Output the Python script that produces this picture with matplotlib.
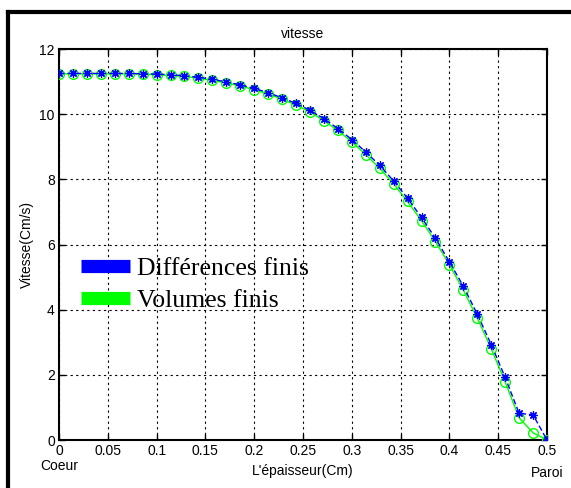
import numpy as np
import matplotlib
matplotlib.use("Agg")
import matplotlib.pyplot as plt
from matplotlib.lines import Line2D

# epaisseur (Cm), 36 noeuds de 0 a 0.5
x = np.linspace(0.0, 0.5, 36)

# vitesse - differences finis
v_df = [11.25, 11.25, 11.25, 11.25, 11.25, 11.25, 11.24, 11.23, 11.21, 11.18,
        11.13, 11.07, 10.99, 10.90, 10.79, 10.66, 10.50, 10.33, 10.12, 9.86,
        9.56, 9.22, 8.84, 8.43, 7.95, 7.42, 6.83, 6.19, 5.47, 4.72,
        3.86, 2.93, 1.92, 0.82, 0.77, 0.0]

# vitesse - volumes finis
v_vf = [11.24, 11.24, 11.24, 11.24, 11.24, 11.24, 11.23, 11.21, 11.19, 11.16,
        11.11, 11.04, 10.96, 10.87, 10.75, 10.62, 10.46, 10.28, 10.07, 9.80,
        9.50, 9.15, 8.76, 8.34, 7.86, 7.32, 6.73, 6.09, 5.38, 4.60,
        3.74, 2.80, 1.78, 0.68, 0.22, 0.0]

xticks = [0, 0.05, 0.1, 0.15, 0.2, 0.25, 0.3, 0.35, 0.4, 0.45, 0.5]
xticklabels = ["0", "0.05", "0.1", "0.15", "0.2", "0.25", "0.3", "0.35", "0.4", "0.45", "0.5"]
yticks = [0, 2, 4, 6, 8, 10, 12]
legend_labels = ["Différences finis", "Volumes finis"]

plt.rcParams["font.family"] = ["Liberation Sans", "DejaVu Sans"]

W, H = 571, 488
fig = plt.figure(figsize=(W / 100, H / 100), dpi=100)
ax = fig.add_axes([59 / W, 1 - 440 / H, (547 - 59) / W, (440 - 49) / H])

ax.plot(x, v_vf, color="#00ff00", lw=1.0, marker="o", ms=7, mfc="none",
        mec="#00ff00", mew=1.0, zorder=3)
ax.plot(x, v_df, color="#0000ff", lw=1.0, ls=(0, (4, 2)), marker=(8, 2, 0), ms=6,
        mec="#0000ff", mew=0.9, zorder=4)

ax.set_xlim(0, 0.5)
ax.set_ylim(0, 12)
ax.set_xticks(xticks)
ax.set_xticklabels(xticklabels)
ax.set_yticks(yticks)
ax.tick_params(direction="in", top=True, right=True, labelsize=10, length=4,
               width=1, pad=3)
ax.grid(True, color="black", ls=(0, (2, 3)), lw=0.8)
for s in ax.spines.values():
    s.set_linewidth(1.5)

ax.set_title("vitesse", fontsize=10, pad=8)
ax.set_xlabel("L'épaisseur(Cm)", fontsize=10, labelpad=4)
ax.set_ylabel("Vitesse(Cm/s)", fontsize=10, labelpad=4)

ax.text(0, -0.048, "Coeur", transform=ax.transAxes, ha="center", va="top", fontsize=10)
ax.text(1.0, -0.066, "Paroi", transform=ax.transAxes, ha="center", va="top", fontsize=10)

handles = [Line2D([], [], color="#0000ff", lw=9.5, solid_capstyle="butt"),
           Line2D([], [], color="#00ff00", lw=9.5, solid_capstyle="butt")]
ax.legend(handles, legend_labels, loc="upper left", bbox_to_anchor=(0.045, 0.467),
          frameon=False, prop={"family": "Liberation Serif", "size": 18.5},
          handlelength=1.9, handletextpad=0.28, labelspacing=0.32, borderaxespad=0,
          borderpad=0)

# cadre noir de la figure (bords gauche et haut)
fig.add_artist(Line2D([8 / W, 8 / W], [0, 1 - 12 / H], color="black", lw=3,
                      transform=fig.transFigure))
fig.add_artist(Line2D([8 / W, 1], [1 - 12 / H, 1 - 12 / H], color="black", lw=3,
                      transform=fig.transFigure))

fig.savefig("out.png", dpi=100)
